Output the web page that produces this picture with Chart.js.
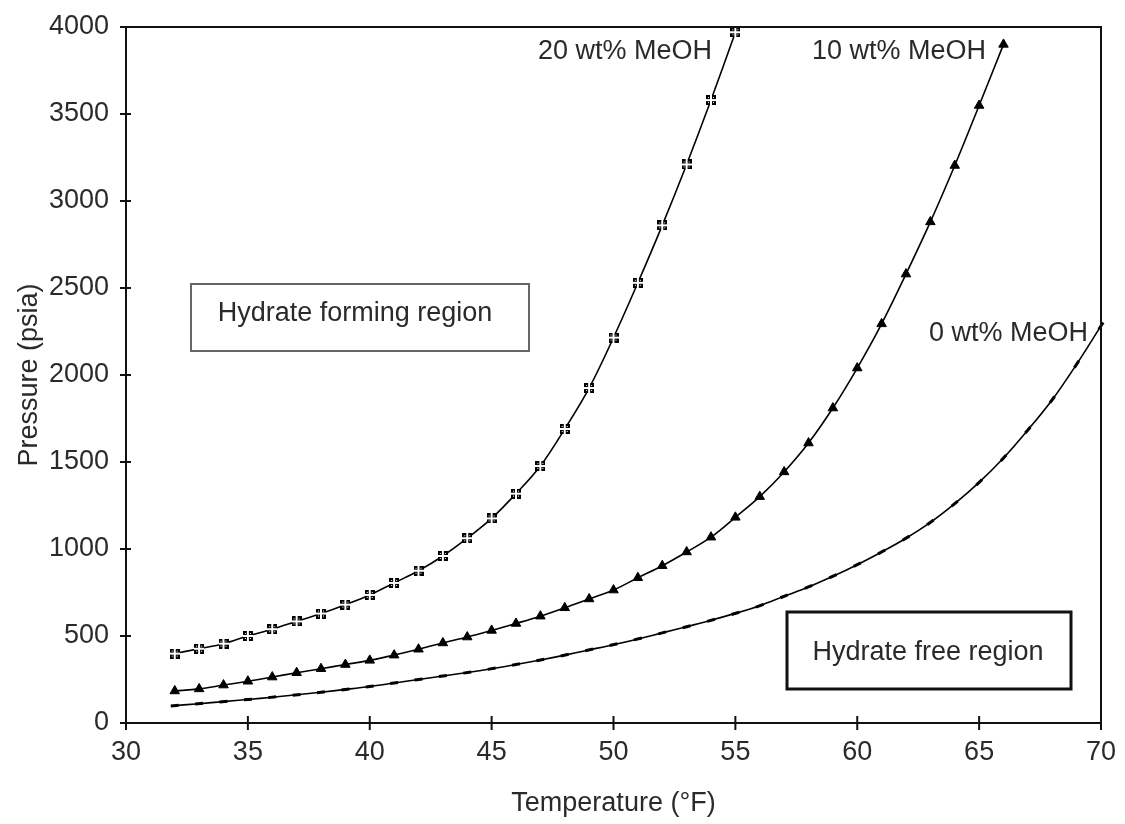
<!DOCTYPE html>
<html lang="en">

<head>
    <meta charset="UTF-8">
    <title>Hydrate curves with MeOH</title>
    <script src="https://cdn.jsdelivr.net/npm/chart.js"></script>
    <style>
        body {
            margin: 0;
            background: #fff;
        }

        .wrap {
            width: 1125px;
            height: 824px;
        }
    </style>
</head>

<body>
    <div class="wrap">
        <canvas id="hydrateChart" width="1125" height="824"></canvas>
    </div>

    <script>
        // Temperatures (°F) for each curve
        const temps20 = [32, 33, 34, 35, 36, 37, 38, 39, 40, 41, 42, 43, 44, 45, 46, 47, 48, 49, 50, 51, 52, 53, 54, 55];
        const temps10 = [32, 33, 34, 35, 36, 37, 38, 39, 40, 41, 42, 43, 44, 45, 46, 47, 48, 49, 50, 51, 52, 53, 54, 55, 56, 57, 58, 59, 60, 61, 62, 63, 64, 65, 66];
        const temps0 = [32, 33, 34, 35, 36, 37, 38, 39, 40, 41, 42, 43, 44, 45, 46, 47, 48, 49, 50, 51, 52, 53, 54, 55, 56, 57, 58, 59, 60, 61, 62, 63, 64, 65, 66, 67, 68, 69, 70];

        // Pressures (psia)
        const pressure20 = [399, 427, 456, 500, 539, 584, 629, 680, 736, 805, 875, 960, 1062, 1176, 1318, 1477, 1690, 1925, 2215, 2530, 2860, 3210, 3580, 3970];
        const pressure10 = [184, 196, 218, 240, 264, 289, 312, 336, 360, 390, 424, 460, 494, 532, 572, 614, 662, 713, 764, 835, 904, 983, 1068, 1182, 1301, 1443, 1609, 1810, 2040, 2294, 2580, 2880, 3204, 3549, 3900];
        const pressure0 = [100, 111, 123, 135, 148, 162, 177, 193, 210, 230, 250, 270, 290, 312, 336, 362, 390, 420, 450, 483, 518, 553, 590, 630, 674, 728, 782, 843, 910, 983, 1062, 1153, 1261, 1383, 1523, 1684, 1858, 2062, 2282];

        const xTicks = [30, 35, 40, 45, 50, 55, 60, 65, 70];
        const yTicks = [0, 500, 1000, 1500, 2000, 2500, 3000, 3500, 4000];

        const textColor = '#2a2a2a';
        const fontFamily = '"Liberation Sans", Arial, sans-serif';
        const fontSize = 27;

        function toPoints(xs, ys) {
            return xs.map((x, i) => ({ x: x, y: ys[i] }));
        }

        // Marker for the 20 wt% curve: small square split in four
        function makeGridMarker() {
            const c = document.createElement('canvas');
            c.width = 10;
            c.height = 10;
            const g = c.getContext('2d');
            g.fillStyle = '#000';
            g.fillRect(0, 0, 10, 10);
            g.fillStyle = '#fff';
            g.fillRect(4, 0, 2, 10);
            g.fillRect(0, 4, 10, 2);
            g.fillRect(2, 2, 1, 1);
            g.fillRect(7, 2, 1, 1);
            g.fillRect(2, 7, 1, 1);
            g.fillRect(7, 7, 1, 1);
            return c;
        }

        // Dash markers follow the curve direction
        function dashRotation(ctx) {
            const chart = ctx.chart;
            const data = ctx.dataset.data;
            const i = ctx.dataIndex;
            if (!chart.scales || !chart.scales.x || data.length < 2) return 0;
            const a = data[Math.max(i - 1, 0)];
            const b = data[Math.min(i + 1, data.length - 1)];
            const xs = chart.scales.x, ys = chart.scales.y;
            const dx = xs.getPixelForValue(b.x) - xs.getPixelForValue(a.x);
            const dy = ys.getPixelForValue(b.y) - ys.getPixelForValue(a.y);
            return Math.atan2(dy, dx) * 180 / Math.PI;
        }

        // Frame, crossing tick marks and the text boxes
        const decorPlugin = {
            id: 'decor',
            afterDatasetsDraw(chart) {
                const { ctx, chartArea: a, scales } = chart;
                ctx.save();
                ctx.strokeStyle = '#111';
                ctx.lineWidth = 2;
                ctx.strokeRect(a.left, a.top, a.right - a.left, a.bottom - a.top);

                ctx.beginPath();
                xTicks.forEach(v => {
                    const px = scales.x.getPixelForValue(v);
                    ctx.moveTo(px, a.bottom - 7);
                    ctx.lineTo(px, a.bottom + 7);
                });
                yTicks.forEach(v => {
                    const py = scales.y.getPixelForValue(v);
                    ctx.moveTo(a.left - 6, py);
                    ctx.lineTo(a.left + 5, py);
                });
                ctx.stroke();

                ctx.fillStyle = textColor;
                ctx.font = fontSize + 'px ' + fontFamily;
                ctx.textBaseline = 'middle';
                ctx.textAlign = 'right';
                ctx.fillText('20 wt% MeOH', 712, 52);
                ctx.fillText('10 wt% MeOH', 986, 52);
                ctx.fillText('0 wt% MeOH', 1088, 334);

                // Hydrate forming region box
                ctx.fillStyle = '#fff';
                ctx.fillRect(191, 284, 338, 67);
                ctx.strokeStyle = '#666';
                ctx.lineWidth = 2;
                ctx.strokeRect(191, 284, 338, 67);
                ctx.fillStyle = textColor;
                ctx.textAlign = 'center';
                ctx.fillText('Hydrate forming region', 355, 314);

                // Hydrate free region box
                ctx.fillStyle = '#fff';
                ctx.fillRect(787, 612, 284, 77);
                ctx.strokeStyle = '#111';
                ctx.lineWidth = 3;
                ctx.strokeRect(787, 612, 284, 77);
                ctx.fillStyle = textColor;
                ctx.fillText('Hydrate free region', 928, 653);
                ctx.restore();
            }
        };

        const lineStyle = {
            borderColor: '#000',
            backgroundColor: '#000',
            pointBorderColor: '#000',
            pointBackgroundColor: '#000',
            borderWidth: 1.6,
            fill: false,
            tension: 0.35,
            clip: false
        };

        const tickFont = { family: fontFamily, size: fontSize };

        const ctx = document.getElementById('hydrateChart').getContext('2d');
        new Chart(ctx, {
            type: 'line',
            data: {
                datasets: [
                    Object.assign({}, lineStyle, {
                        label: '20 wt% MeOH',
                        data: toPoints(temps20, pressure20),
                        pointStyle: makeGridMarker(),
                        pointRadius: 5
                    }),
                    Object.assign({}, lineStyle, {
                        label: '10 wt% MeOH',
                        data: toPoints(temps10, pressure10),
                        pointStyle: 'triangle',
                        pointRadius: 5.5,
                        pointBorderWidth: 1
                    }),
                    Object.assign({}, lineStyle, {
                        label: '0 wt% MeOH',
                        data: toPoints(temps0, pressure0),
                        pointStyle: 'line',
                        pointRadius: 4,
                        pointBorderWidth: 3,
                        pointRotation: dashRotation
                    })
                ]
            },
            options: {
                responsive: false,
                animation: false,
                events: [],
                layout: { padding: { left: 0, right: 24, top: 27, bottom: 0 } },
                plugins: {
                    legend: { display: false },
                    tooltip: { enabled: false }
                },
                scales: {
                    x: {
                        type: 'linear',
                        min: 30,
                        max: 70,
                        afterFit: s => {
                            s.height = 101;
                            s.paddingLeft = 0;
                            s.paddingRight = 0;
                        },
                        grid: { display: false, drawTicks: false },
                        border: { display: false },
                        ticks: {
                            stepSize: 5,
                            padding: 13,
                            color: textColor,
                            font: tickFont,
                            callback: v => String(v)
                        },
                        title: {
                            display: true,
                            text: 'Temperature (°F)',
                            color: textColor,
                            font: tickFont,
                            padding: { top: 0, bottom: 4 }
                        }
                    },
                    y: {
                        type: 'linear',
                        min: 0,
                        max: 4000,
                        afterFit: s => {
                            s.width = 126;
                            s.paddingTop = 0;
                            s.paddingBottom = 0;
                        },
                        grid: { display: false, drawTicks: false },
                        border: { display: false },
                        ticks: {
                            stepSize: 500,
                            padding: 17,
                            color: textColor,
                            font: tickFont,
                            callback: v => String(v)
                        },
                        title: {
                            display: true,
                            text: 'Pressure (psia)',
                            color: textColor,
                            font: tickFont,
                            padding: { top: 13, bottom: 0 }
                        }
                    }
                }
            },
            plugins: [decorPlugin]
        });
    </script>
</body>

</html>
